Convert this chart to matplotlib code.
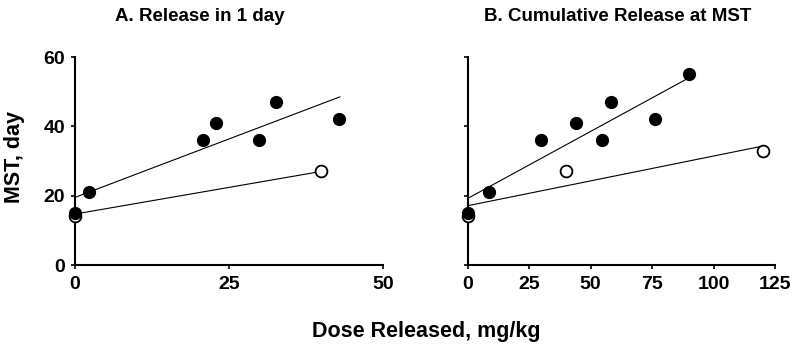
import matplotlib
matplotlib.use("Agg")
import matplotlib.pyplot as plt

plt.rcParams['font.family'] = ['Liberation Sans', 'DejaVu Sans']
plt.rcParams['font.weight'] = 'bold'

# Panel A data
a_filled_x = [0, 2.3, 20.7, 22.9, 29.8, 32.6, 42.9]
a_filled_y = [15, 21, 36, 41, 36, 47, 42]
a_open_x = [0, 40]
a_open_y = [14, 27]
a_fit_filled_x = [0, 43]
a_fit_filled_y = [19.5, 48.5]
a_fit_open_x = [0, 40]
a_fit_open_y = [14.7, 27]

# Panel B data
b_filled_x = [0, 8.8, 29.8, 44.0, 54.7, 58.1, 76.3, 89.9]
b_filled_y = [15, 21, 36, 41, 36, 47, 42, 55]
b_open_x = [0, 40, 120]
b_open_y = [14, 27, 33]
b_fit_filled_x = [0, 90]
b_fit_filled_y = [19.2, 54]
b_fit_open_x = [0, 120]
b_fit_open_y = [17.1, 34.3]

a_xticks = [0, 25, 50]
b_xticks = [0, 25, 50, 75, 100, 125]
yticks = [0, 20, 40, 60]

titles = ["A. Release in 1 day", "B. Cumulative Release at MST"]
xlabel = "Dose Released, mg/kg"
ylabel = "MST, day"

W, H = 800, 347
fig = plt.figure(figsize=(W/100, H/100), dpi=100)

def px(x0, y0, x1, y1):
    return [x0/W, 1 - y1/H, (x1-x0)/W, (y1-y0)/H]

axA = fig.add_axes(px(75, 57, 383, 265))
axB = fig.add_axes(px(467.7, 57, 775, 265))

FS = 14

def style(ax, xmax, xticks, show_ylabels):
    ax.set_xlim(0, xmax)
    ax.set_ylim(0, 60)
    ax.set_xticks(xticks)
    ax.set_yticks(yticks)
    for s in ['top', 'right']:
        ax.spines[s].set_visible(False)
    for s in ['left', 'bottom']:
        ax.spines[s].set_linewidth(1.5)
    ax.tick_params(direction='out', length=3, width=1.2, labelsize=FS, pad=5)
    ax.tick_params(axis='y', pad=4)
    for lab in ax.get_xticklabels() + ax.get_yticklabels():
        lab.set_fontweight('bold')
    if not show_ylabels:
        ax.set_yticklabels([])

def draw(ax, fx, fy, ox, oy, lfx, lfy, lox, loy):
    ax.plot(lfx, lfy, color='black', lw=0.8, clip_on=False)
    ax.plot(lox, loy, color='black', lw=0.8, clip_on=False)
    ax.plot(ox, oy, 'o', ms=8.5, mfc='white', mec='black', mew=1.3, ls='none', clip_on=False, zorder=3)
    ax.plot(fx, fy, 'o', ms=8.5, mfc='black', mec='black', ls='none', clip_on=False, zorder=4)

draw(axA, a_filled_x, a_filled_y, a_open_x, a_open_y,
     a_fit_filled_x, a_fit_filled_y, a_fit_open_x, a_fit_open_y)
draw(axB, b_filled_x, b_filled_y, b_open_x, b_open_y,
     b_fit_filled_x, b_fit_filled_y, b_fit_open_x, b_fit_open_y)

style(axA, 50, a_xticks, True)
style(axB, 125, b_xticks, False)

fig.text(200/W, 1 - 21/H, titles[0], ha='center', va='baseline', fontsize=13.5, fontweight='bold')
fig.text(618/W, 1 - 21/H, titles[1], ha='center', va='baseline', fontsize=13.5, fontweight='bold')
fig.text(426/W, 1 - 337/H, xlabel, ha='center', va='baseline', fontsize=15.5, fontweight='bold')
fig.text(15/W, 1 - 157/H, ylabel, ha='center', va='center', rotation=90, fontsize=15.5, fontweight='bold')

fig.savefig('out.png', dpi=100)
